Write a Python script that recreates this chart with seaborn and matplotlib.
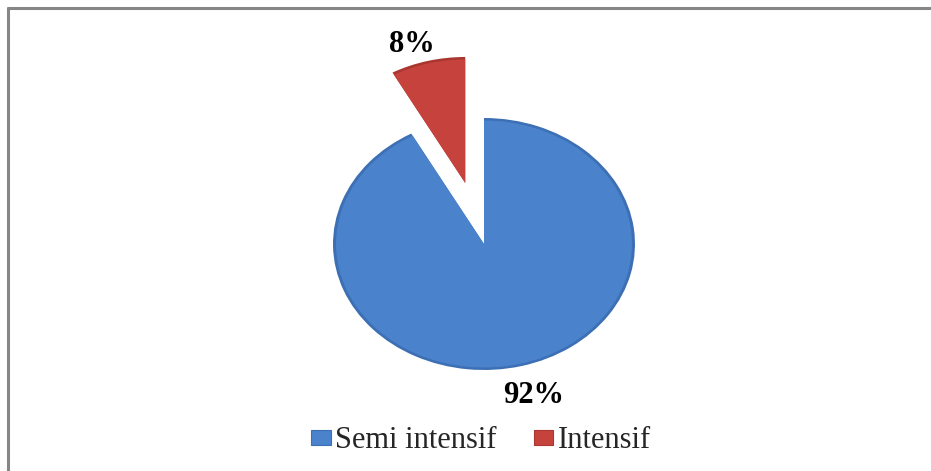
import matplotlib
matplotlib.use("Agg")
import matplotlib.pyplot as plt
from matplotlib.lines import Line2D
from matplotlib.patches import Patch
import seaborn as sns

# Share of farms by production system
categories = ["Semi intensif", "Intensif"]
shares = [92, 8]
explode = [0, 0.5]
face_colors = ["#4a82cc", "#c6423d"]
rim_colors = ["#3d6fb4", "#a9362f"]

sns.set_theme(style="white")
plt.rcParams["font.family"] = ["Liberation Serif", "DejaVu Serif"]

W, H = 931, 471
fig = plt.figure(figsize=(W / 100, H / 100), dpi=100)
ax = fig.add_axes([0, 0, 1, 1])

# Pie drawn as an ellipse: centre and radii in pixels
cx, cy = 484, 227
rx, ry = 151, 126

# Soft darker rim, then the main face on top of it
ax.pie(shares, explode=explode, colors=rim_colors, startangle=90,
       counterclock=False, radius=1.0,
       wedgeprops=dict(linewidth=0))
ax.pie(shares, explode=explode, colors=face_colors, startangle=90,
       counterclock=False, radius=0.98,
       wedgeprops=dict(linewidth=0))

ax.set_xlim(-cx / rx, (W - cx) / rx)
ax.set_ylim(-cy / ry, (H - cy) / ry)
ax.set_aspect("auto")
ax.axis("off")

# Percentage labels
label_pos = {"Semi intensif": (0.331, -1.2), "Intensif": (-0.477, 1.585)}
for cat, val in zip(categories, shares):
    x, y = label_pos[cat]
    ax.text(x, y, f"{val}%", ha="center", va="center", fontsize=22,
            fontweight="bold", color="black")

# Legend at the bottom
handles = [Patch(facecolor=f, edgecolor=r, linewidth=0.8)
           for f, r in zip(face_colors, rim_colors)]
fig.legend(handles, categories, loc="center", bbox_to_anchor=(481 / W, 30 / H),
           ncol=2, frameon=False, fontsize=22, handlelength=0.65,
           handleheight=0.4, handletextpad=0.15, columnspacing=1.2,
           borderaxespad=0, borderpad=0)

# Chart frame (top and left edges visible)
frame_kw = dict(color="#868686", linewidth=2.2, transform=fig.transFigure)
fig.add_artist(Line2D([8 / W, 1.01], [1 - 8 / H, 1 - 8 / H], **frame_kw))
fig.add_artist(Line2D([8 / W, 8 / W], [-0.01, 1 - 8 / H], **frame_kw))

fig.savefig("out.png", dpi=100)
